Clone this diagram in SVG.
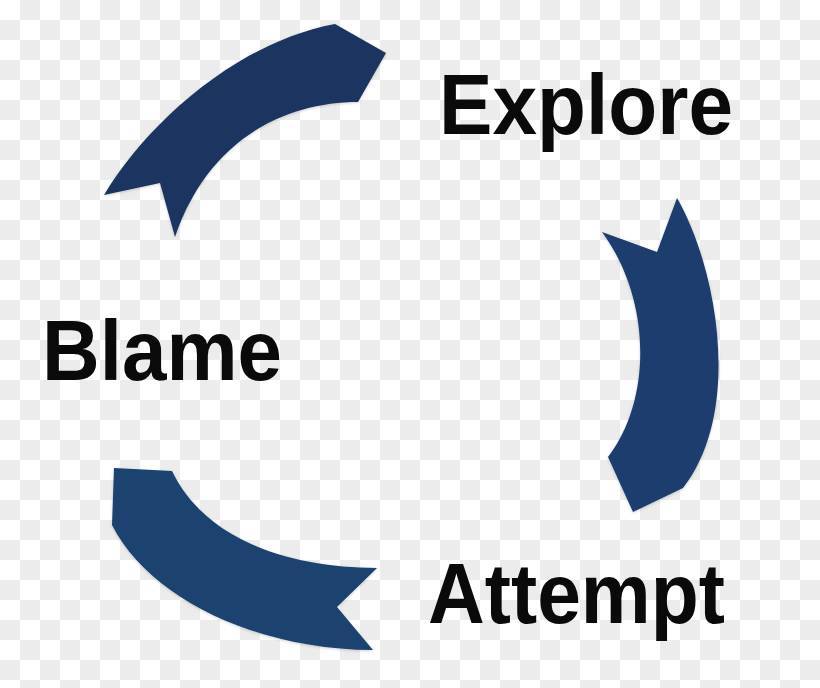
<svg xmlns="http://www.w3.org/2000/svg" width="820" height="688" viewBox="0 0 820 688">
<defs>
<pattern id="checker" x="0" y="0" width="40" height="40" patternUnits="userSpaceOnUse">
<rect width="40" height="40" fill="#ffffff"/>
<rect x="20" y="0" width="20" height="20" fill="#ececec"/>
<rect x="0" y="20" width="20" height="20" fill="#ececec"/>
</pattern>
<filter id="shadow" x="-10%" y="-10%" width="120%" height="120%">
<feDropShadow dx="0" dy="1" stdDeviation="1.5" flood-color="#000000" flood-opacity="0.18"/>
</filter>
<style>
.lbl{font-family:"Liberation Sans",Arial,sans-serif;font-weight:bold;font-size:86px;fill:#0a0a0a}
.arrow{filter:url(#shadow)}
</style>
</defs>
<rect width="820" height="688" fill="url(#checker)"/>
<g id="connectors">
<path id="arrow-blame-explore" class="arrow" fill="#1c3560" d="M104,195 C148,122 238,42 335,24 L386,53 L358,102 C290,102 210,135 175,237 L160,183 Z"/>
<path id="arrow-explore-attempt" class="arrow" fill="#1b3e6d" d="M602,232 L657,252 L677,198 C716,265 744,410 683,488 L633,512 L608,457 C652,400 652,300 602,232 Z"/>
<path id="arrow-attempt-blame" class="arrow" fill="#1a4270" d="M114,468 L172,471 C205,540 290,568 377,568 L337,607 L373,650 C260,650 150,600 112,525 Z"/>
</g>
<g id="node-explore"><text class="lbl" x="439" y="134" textLength="294" lengthAdjust="spacingAndGlyphs">Explore</text></g>
<g id="node-blame"><text class="lbl" x="42" y="380" textLength="240" lengthAdjust="spacingAndGlyphs">Blame</text></g>
<g id="node-attempt"><text class="lbl" x="428" y="623" textLength="297" lengthAdjust="spacingAndGlyphs">Attempt</text></g>
</svg>
